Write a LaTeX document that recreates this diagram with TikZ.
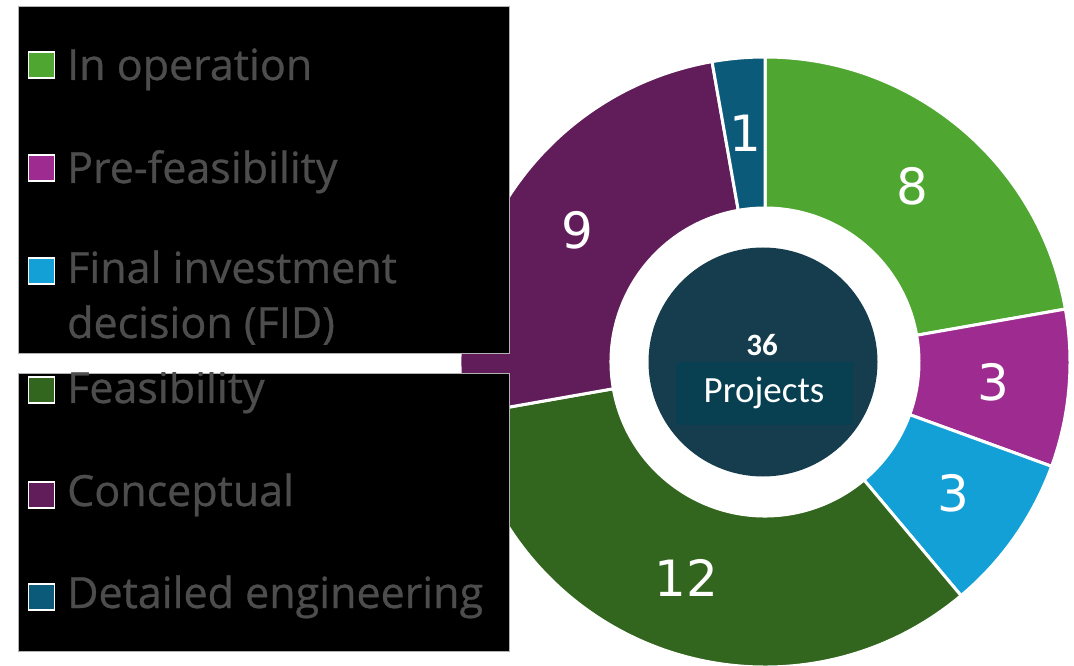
\documentclass[tikz,border=0pt]{standalone}
\usepackage{fontspec}
\setmainfont{Open Sans}
\newfontfamily\legfont{Open Sans}[FakeBold=0.7]
\newfontfamily\numfont{DejaVu Sans}
\newfontfamily\calfont{Carlito}
\definecolor{inop}{RGB}{79,167,50}
\definecolor{prefeas}{RGB}{158,43,143}
\definecolor{fidc}{RGB}{18,160,215}
\definecolor{feas}{RGB}{50,101,29}
\definecolor{concept}{RGB}{97,29,89}
\definecolor{detail}{RGB}{12,90,122}
\definecolor{centerc}{RGB}{22,61,78}
\definecolor{projrect}{RGB}{8,64,82}
\definecolor{legtext}{RGB}{77,77,77}
\tikzset{
  segnum/.style={font=\numfont\fontsize{50}{50}\selectfont, text=white, inner sep=0},
  legbox/.style={fill=black, draw=gray!60, line width=0.8pt},
  legsq/.style={draw=white, line width=1.8pt, minimum size=26pt, inner sep=0},
  legtxt/.style={font=\legfont\fontsize{43}{55}\selectfont, text=legtext, anchor=base west, inner sep=0, align=left},
}
\newcommand{\donutseg}[4]{%
  \filldraw[fill=#1, draw=white, line width=3pt] (#2:305pt) arc[start angle=#2, end angle=#3, radius=305pt] -- (#3:154pt) arc[start angle=#3, end angle=#2, radius=154pt] -- cycle;
  \node[segnum] at ({(#2+#3)/2}:229.5pt) {#4};
}
\begin{document}
\begin{tikzpicture}[x=1pt,y=1pt]
\useasboundingbox (0,0) rectangle (1074,665);
\fill[white] (0,0) rectangle (1074,665);
\begin{scope}[shift={(765,303)}]
  \donutseg{inop}{90}{10}{8}
  \donutseg{prefeas}{10}{-20}{3}
  \donutseg{fidc}{-20}{-50}{3}
  \donutseg{feas}{-50}{-170}{12}
  \donutseg{concept}{190}{100}{9}
  \donutseg{detail}{100}{90}{1}
\end{scope}
\node[circle, fill=centerc, minimum size=229pt, inner sep=0] (hub) at (763,303) {};
\node[fill=projrect, minimum width=177pt, minimum height=63pt, inner sep=0] (projbox) at (764.5,271.5) {};
\node[font=\calfont\bfseries\fontsize{31}{31}\selectfont, text=white, inner sep=0] (total) at (762,320) {36};
\node[font=\calfont\fontsize{37}{37}\selectfont, text=white, inner sep=0] (projlbl) at (764,272) {Projects};
% legend boxes
\draw[legbox] (18,312) rectangle (509,659);
\draw[legbox] (18,14) rectangle (509,292);
% legend entries
\begin{scope}
\clip (18,312) rectangle (509,659);
\node[legsq, fill=inop] (s1) at (41.5,600) {};
\node[legsq, fill=prefeas] (s2) at (41.5,497) {};
\node[legsq, fill=fidc] (s3) at (41.5,394) {};
\node[legtxt] (t1) at (67,585) {In operation};
\node[legtxt] (t2) at (67,482) {Pre-feasibility};
\node[legtxt] (t3) at (67,382) {Final investment};
\node[legtxt] (t3b) at (67,327) {decision (FID)};
\end{scope}
\begin{scope}
\clip (18,14) rectangle (509,292);
\node[legsq, fill=feas] (s4) at (41.5,275) {};
\node[legsq, fill=concept] (s5) at (41.5,170) {};
\node[legsq, fill=detail] (s6) at (41.5,68) {};
\node[legtxt] (t4) at (67,262) {Feasibility};
\node[legtxt] (t5) at (67,159) {Conceptual};
\node[legtxt] (t6) at (67,57) {Detailed engineering};
\end{scope}
\end{tikzpicture}
\end{document}
